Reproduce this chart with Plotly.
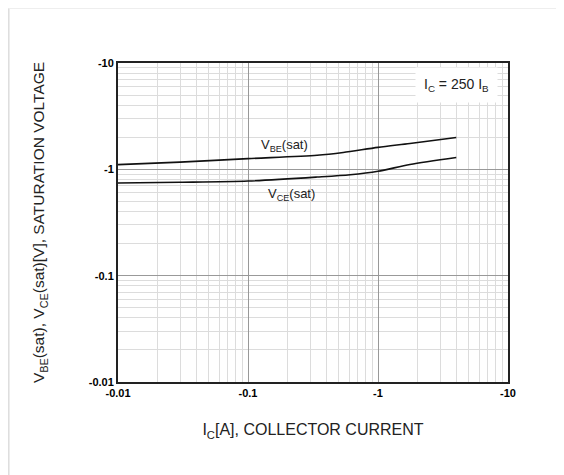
import plotly.graph_objects as go

# Data (Ic in A, voltages in V, magnitudes)
ic_vbe = [0.01, 0.03, 0.1, 0.34, 0.54, 1.0, 1.76, 4.0]
vbe_sat = [1.107, 1.17, 1.26, 1.355, 1.44, 1.61, 1.75, 1.99]
ic_vce = [0.01, 0.03, 0.1, 0.34, 0.61, 1.0, 1.76, 4.0]
vce_sat = [0.743, 0.755, 0.776, 0.846, 0.89, 0.96, 1.11, 1.29]

x_tickvals = [0.01, 0.1, 1, 10]
x_ticktext = ["-0.01", "-0.1", "-1", "-10"]
y_tickvals = [0.01, 0.1, 1, 10]
y_ticktext = ["-0.01", "-0.1", "-1", "-10"]
minor_vals = [m * 10 ** e for e in (-2, -1, 0) for m in range(2, 10)]

FONT = "Liberation Sans, Arial"

fig = go.Figure()
fig.add_trace(go.Scatter(x=ic_vbe, y=vbe_sat, mode="lines",
                         line=dict(color="#111", width=1.6, shape="spline", smoothing=0.8), showlegend=False))
fig.add_trace(go.Scatter(x=ic_vce, y=vce_sat, mode="lines",
                         line=dict(color="#111", width=1.6, shape="spline", smoothing=0.8), showlegend=False))

fig.add_annotation(x=-0.723, y=0.226, xref="x", yref="y", text="V<sub>BE</sub>(sat)", showarrow=False,
                   font=dict(family=FONT, size=13, color="#222"))
fig.add_annotation(x=-0.669, y=-0.236, xref="x", yref="y", text="V<sub>CE</sub>(sat)", showarrow=False,
                   font=dict(family=FONT, size=13, color="#222"))
fig.add_annotation(x=0.975, y=0.93, xref="paper", yref="paper", text="I<sub>C</sub> = 250 I<sub>B</sub>",
                   showarrow=False, xanchor="right", yanchor="middle", bgcolor="white", borderpad=8,
                   font=dict(family=FONT, size=14, color="#222"))

axis_common = dict(type="log", showline=True, linecolor="#222", linewidth=2, mirror=True,
                   showgrid=True, gridcolor="#999", gridwidth=1, ticks="", zeroline=False,
                   tickfont=dict(family=FONT, size=11, color="#000", weight="bold"),
                   minor=dict(tickvals=minor_vals, showgrid=True, gridcolor="#dcdcdc", gridwidth=1, ticks=""))

fig.update_xaxes(range=[-2, 1], tickvals=x_tickvals, ticktext=x_ticktext,
                 title=dict(text="I<sub>C</sub>[A], COLLECTOR CURRENT", standoff=26,
                            font=dict(family=FONT, size=16, color="#222")),
                 **axis_common)
fig.update_yaxes(range=[-2, 1], tickvals=y_tickvals, ticktext=y_ticktext,
                 title=dict(text="V<sub>BE</sub>(sat), V<sub>CE</sub>(sat)[V], SATURATION VOLTAGE", standoff=40,
                            font=dict(family=FONT, size=15.5, color="#222")),
                 **axis_common)

fig.add_shape(type="line", xref="paper", yref="paper", x0=-0.28, x1=-0.28, y0=1.172, y1=-0.3,
              line=dict(color="#ddd", width=1.5))
fig.add_shape(type="line", xref="paper", yref="paper", x0=-0.28, x1=1.2, y0=1.172, y1=1.172,
              line=dict(color="#eee", width=1.5))

fig.update_layout(width=564, height=475, margin=dict(l=110, r=64, t=55, b=101),
                  plot_bgcolor="white", paper_bgcolor="white")

fig.write_html("out.html")
